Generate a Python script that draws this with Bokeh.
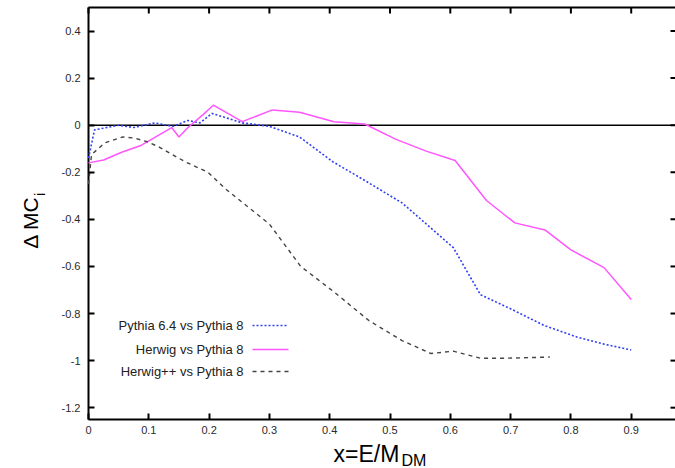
import math
from bokeh.plotting import figure
from bokeh.models import FixedTicker, Label
from bokeh.embed import file_html
from bokeh.resources import INLINE

# ---- data ----
x_py64 = [0.0, 0.01, 0.05, 0.075, 0.11, 0.14, 0.165, 0.185, 0.205, 0.255, 0.30,
          0.35, 0.405, 0.455, 0.52, 0.605, 0.65, 0.70, 0.755, 0.81, 0.855, 0.90]
y_py64 = [-0.14, -0.02, 0.0, -0.01, 0.01, -0.005, 0.02, 0.01, 0.05, 0.01, -0.005,
          -0.05, -0.155, -0.23, -0.33, -0.52, -0.72, -0.78, -0.85, -0.90, -0.93, -0.955]

x_herwig = [0.0, 0.025, 0.055, 0.088, 0.138, 0.15, 0.165, 0.19, 0.207, 0.255, 0.305,
            0.35, 0.407, 0.458, 0.51, 0.56, 0.608, 0.66, 0.707, 0.757, 0.80, 0.855, 0.90]
y_herwig = [-0.16, -0.148, -0.115, -0.085, -0.01, -0.05, -0.01, 0.045, 0.085, 0.015, 0.065,
            0.055, 0.015, 0.005, -0.06, -0.11, -0.15, -0.32, -0.415, -0.445, -0.53, -0.605, -0.74]

x_herwigpp = [0.0, 0.005, 0.027, 0.057, 0.077, 0.097, 0.115, 0.16, 0.198, 0.227, 0.30,
              0.352, 0.408, 0.465, 0.52, 0.568, 0.605, 0.65, 0.69, 0.765]
y_herwigpp = [-0.25, -0.125, -0.075, -0.05, -0.055, -0.07, -0.09, -0.155, -0.2, -0.27, -0.42,
              -0.60, -0.71, -0.83, -0.915, -0.97, -0.96, -0.99, -0.99, -0.985]

series_names = ["Pythia 6.4 vs Pythia 8", "Herwig vs Pythia 8", "Herwig++ vs Pythia 8"]

x_ticks = [0.0, 0.1, 0.2, 0.3, 0.4, 0.5, 0.6, 0.7, 0.8, 0.9]
x_tick_labels = ["0", "0.1", "0.2", "0.3", "0.4", "0.5", "0.6", "0.7", "0.8", "0.9"]
y_ticks = [0.4, 0.2, 0.0, -0.2, -0.4, -0.6, -0.8, -1.0, -1.2]
y_tick_labels = ["0.4", "0.2", "0", "-0.2", "-0.4", "-0.6", "-0.8", "-1", "-1.2"]

# ---- layout / style ----
W, H = 675, 468
PX_X = 603.0   # pixels per x unit
PX_Y = 235.4   # pixels per y unit
BOX_L, BOX_T = 88, 7          # plot box position on the canvas (px)
X0, X1 = 0.0, (W - BOX_L) / PX_X
Y0, Y1 = -1.25, 0.5
XR = (X0 - BOX_L / PX_X, X1)
YR = (Y1 - (H - BOX_T) / PX_Y, Y1 + BOX_T / PX_Y)
FONT = "Liberation Sans"
styles = [
    dict(line_color="#3040f0", line_width=1.6, line_dash="2 2"),
    dict(line_color="#ff55ff", line_width=1.5, line_dash="solid"),
    dict(line_color="#444444", line_width=1.4, line_dash="4 4"),
]


def sx(px):
    return (px - BOX_L) / PX_X


def sy(py):
    return Y1 - (py - BOX_T) / PX_Y


p = figure(width=W, height=H, x_range=XR, y_range=YR,
           output_backend="svg", toolbar_location=None,
           min_border_left=0, min_border_right=0, min_border_top=0, min_border_bottom=0)
p.grid.visible = False
p.outline_line_color = None
p.background_fill_color = "white"
p.border_fill_color = "white"

p.xaxis.fixed_location = Y0
p.yaxis.fixed_location = X0
for ax, ticks, labels in ((p.xaxis[0], x_ticks, x_tick_labels), (p.yaxis[0], y_ticks, y_tick_labels)):
    ax.ticker = FixedTicker(ticks=ticks)
    ax.major_label_overrides = {t: l for t, l in zip(ticks, labels)}
    ax.minor_tick_line_color = None
    ax.major_tick_in = 6
    ax.major_tick_out = 0
    ax.major_tick_line_width = 2
    ax.major_tick_line_color = "black"
    ax.axis_line_color = None
    ax.major_label_text_font = FONT
    ax.major_label_text_font_size = "11px"
    ax.major_label_text_color = "#2a2a2a"
p.xaxis.major_label_standoff = 7
p.yaxis.major_label_standoff = 8

# plot box (top, left, bottom) and mirrored ticks (top, right)
p.segment(x0=[X0, X0, X0], y0=[Y1, Y0, Y0], x1=[X1, X0, X1], y1=[Y1, Y1, Y0],
          line_color="black", line_width=2)
fx, fy = 1 / PX_X, 1 / PX_Y
p.segment(x0=x_ticks, y0=[Y1] * len(x_ticks), x1=x_ticks, y1=[Y1 - 6 * fy] * len(x_ticks),
          line_color="black", line_width=2)
p.segment(x0=[X1 - 5 * fx] * len(y_ticks), y0=y_ticks, x1=[X1] * len(y_ticks), y1=y_ticks,
          line_color="black", line_width=2)

# zero line
p.segment(x0=[X0], y0=[0.0], x1=[X1], y1=[0.0], line_color="black", line_width=1.5)

# data lines
for xs, ys, st in ((x_py64, y_py64, styles[0]), (x_herwig, y_herwig, styles[1]),
                   (x_herwigpp, y_herwigpp, styles[2])):
    p.line(xs, ys, **st)

# legend (gnuplot style: text then sample)
leg_text_x = sx(243)
leg_s0, leg_s1 = sx(252), sx(288)
leg_rows = [sy(325), sy(349), sy(371)]
for name, yy, st in zip(series_names, leg_rows, styles):
    p.add_layout(Label(x=leg_text_x, y=yy, text=name, text_align="right", text_baseline="middle",
                       text_font=FONT, text_font_size="13px", text_color="#222222"))
    p.segment(x0=[leg_s0], y0=[yy], x1=[leg_s1], y1=[yy], **st)

# axis titles
p.add_layout(Label(x=sx(333), y=sy(453), text="x=E/M", text_align="left", text_baseline="middle",
                   text_font=FONT, text_font_size="23px", text_color="black"))
p.add_layout(Label(x=sx(401), y=sy(460), text="DM", text_align="left", text_baseline="middle",
                   text_font=FONT, text_font_size="16px", text_color="black"))
p.add_layout(Label(x=sx(30), y=sy(222), text="\u0394 MC", angle=math.pi / 2, text_align="center",
                   text_baseline="middle", text_font=FONT, text_font_size="21px", text_color="black"))
p.add_layout(Label(x=sx(39), y=sy(194), text="i", angle=math.pi / 2, text_align="center",
                   text_baseline="middle", text_font=FONT, text_font_size="14px", text_color="black"))

open("out.html", "w").write(file_html(p, INLINE))
